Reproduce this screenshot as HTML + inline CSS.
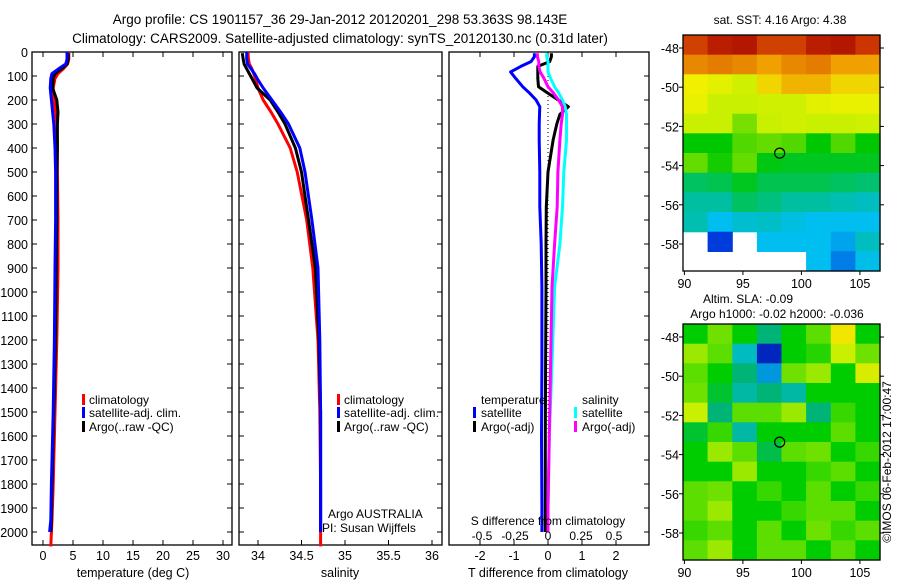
<!DOCTYPE html>
<html><head><meta charset="utf-8"><style>
body{margin:0;background:#fff}
svg{display:block;font-family:"Liberation Sans",sans-serif}
</style></head><body>
<svg id="c" width="900" height="580" viewBox="0 0 900 580" xmlns="http://www.w3.org/2000/svg">
<rect width="900" height="580" fill="#fff"/>
<text x="340" y="24" font-size="13.5" text-anchor="middle">Argo profile: CS 1901157_36 29-Jan-2012 20120201_298 53.363S 98.143E</text>
<text x="340" y="43" font-size="13.5" text-anchor="middle">Climatology: CARS2009. Satellite-adjusted climatology: synTS_20120130.nc (0.31d later)</text>
<g id="g"></g>
</svg>
<script>
// ---------- data ----------
const depthTicks=[0,100,200,300,400,500,600,700,800,900,1000,1100,1200,1300,1400,1500,1600,1700,1800,1900,2000];
const tempTicks=[0,5,10,15,20,25,30];
const salTicks=[34,34.5,35,35.5,36];
const tdiffTicks=[-2,-1,0,1,2];
const sdiffTicks=[-0.5,-0.25,0,0.25,0.5];
const sdiffTickLabels=["-0.5","-0.25","0","0.25","0.5"];

const depthClim=[0,30,50,70,90,110,150,200,250,300,400,500,700,900,1200,1500,1800,1950,2000,2060];
const tempClim=[4.3,4.3,4.1,3.4,2.5,2.0,1.7,1.8,2.1,2.3,2.4,2.4,2.5,2.5,2.3,2.0,1.7,1.5,1.4,1.3];
const salClim=[33.885,33.89,33.9,33.93,33.95,33.97,34.0,34.06,34.15,34.23,34.37,34.45,34.56,34.63,34.69,34.71,34.72,34.72,34.72,34.72];

const depthSat=[0,30,50,70,90,110,150,200,250,300,400,500,700,900,1200,1500,1800,1950,2000];
const tempSat=[4.0,4.0,3.8,2.6,1.5,1.3,1.2,1.4,1.6,1.8,2.0,2.1,2.1,2.0,1.9,1.7,1.4,1.3,1.1];
const salSat=[33.87,33.87,33.88,33.92,33.96,33.99,34.06,34.16,34.26,34.35,34.48,34.54,34.62,34.69,34.71,34.72,34.72,34.72,34.72];

const depthArgo=[5,30,50,70,90,110,150,200,250,300,400,500,700,900,1200,1500,1800,1950,2000];
const tempArgo=[4.2,4.2,4.0,3.1,2.0,1.7,1.6,2.3,2.5,2.4,2.4,2.3,2.3,2.2,2.1,1.8,1.5,1.4,1.3];
const salArgo=[33.82,33.83,33.84,33.87,33.9,33.93,33.99,34.14,34.23,34.31,34.43,34.5,34.58,34.66,34.7,34.72,34.72,34.72,34.72];

const depthDiff=[5,20,40,60,83,110,145,170,200,228,260,300,367,500,645,800,980,1300,1600,1900,2000];
const tdiffSat=[-0.4,-0.4,-0.5,-0.8,-1.1,-0.95,-0.74,-0.55,-0.35,-0.24,-0.25,-0.26,-0.26,-0.24,-0.24,-0.2,-0.18,-0.18,-0.19,-0.18,-0.18];
const tdiffArgo=[0.1,0.1,0.05,-0.3,-0.3,-0.3,-0.28,-0.02,0.3,0.6,0.35,0.26,0.15,0.0,-0.05,-0.06,-0.06,-0.07,-0.08,-0.08,-0.08];
const sdiffArgo=[-0.08,-0.08,-0.07,-0.07,-0.06,-0.03,0.0,0.04,0.08,0.11,0.11,0.10,0.09,0.075,0.07,0.05,0.03,0.02,0.01,0.0,0.0];
const sdiffSat=[-0.01,-0.01,0.0,0.0,0.0,0.02,0.05,0.08,0.11,0.13,0.14,0.14,0.14,0.12,0.11,0.09,0.05,0.03,0.01,0.0,0.0];

// SST map grid (rows: lat -47.3 -> -59.3, 1deg each; cols: 8 lon bins) deg C, null = no data
const sstGrid=[
[8.6,9.0,9.1,8.6,8.6,9.0,9.1,8.7],
[8.0,8.1,8.0,7.8,8.0,8.1,7.8,7.8],
[6.6,6.4,6.1,7.0,7.5,7.5,7.0,7.0],
[6.5,6.0,6.0,6.1,6.1,6.4,6.5,6.5],
[6.0,6.0,5.6,6.0,6.1,6.0,6.0,6.1],
[5.0,5.0,5.4,5.5,5.4,5.0,5.4,5.0],
[5.5,5.1,5.5,4.9,4.8,4.8,4.8,4.8],
[4.4,4.5,4.8,4.5,4.5,4.5,4.4,4.3],
[4.0,4.0,4.4,4.2,4.0,4.0,3.8,3.6],
[3.8,3.0,3.4,3.5,3.2,3.0,3.0,3.0],
[null,2.0,null,3.0,3.0,3.0,2.8,3.6],
[null,null,null,null,null,3.0,2.5,3.1]
];
// SLA map grid (m)
const slaGrid=[
[0.0,0.06,0.0,-0.05,0.0,0.05,0.15,0.0],
[0.08,0.05,-0.1,-0.25,0.0,0.02,0.1,0.06],
[0.05,0.0,-0.05,-0.15,0.06,0.08,0.0,0.12],
[0.06,-0.02,-0.08,-0.05,-0.08,0.0,0.0,0.0],
[0.1,-0.05,0.05,0.05,0.08,-0.05,0.03,0.0],
[-0.02,0.03,-0.08,0.0,0.0,0.0,0.05,0.0],
[0.0,0.08,0.05,-0.03,0.05,0.06,0.0,0.03],
[0.0,0.0,0.08,0.0,0.0,0.03,0.05,0.0],
[0.05,0.06,0.0,0.03,0.0,0.05,0.0,0.03],
[0.05,0.08,0.0,0.0,0.03,0.05,0.05,0.0],
[0.03,0.05,0.0,0.05,0.0,0.06,0.03,0.05],
[0.05,0.08,0.0,0.05,0.05,0.0,0.05,0.0]
];
const lonTicks=[90,95,100,105];
const latTicks=[-48,-50,-52,-54,-56,-58];
const argoLon=98.143, argoLat=-53.363;

// ---------- scales ----------
const NS="http://www.w3.org/2000/svg";
const G=document.getElementById('g');
function el(t,a,p){const e=document.createElementNS(NS,t);for(const k in a)e.setAttribute(k,a[k]);(p||G).appendChild(e);return e;}
const yD=d=>52+d*0.24;
const xT=t=>43+t*6;
const xS=s=>258+(s-34)*87;
const xTd=t=>548+t*34;
const xSd=s=>548+s*132;
const TOP=52,BOT=545;

function frame(x0,x1,name){
  const r=el('rect',{x:x0,y:TOP,width:x1-x0,height:BOT-TOP,fill:'none',stroke:'#000','stroke-width':1.3});
  
  
  depthTicks.forEach(d=>{
    const y=yD(d);
    el('line',{x1:x0,x2:x0+5,y1:y,y2:y,stroke:'#000'});
    el('line',{x1:x1-5,x2:x1,y1:y,y2:y,stroke:'#000'});
  });
}
function xticks(vals,fx,labels,ylab,name,top){
  vals.forEach((v,i)=>{
    const x=fx(v);
    el('line',{x1:x,x2:x,y1:BOT,y2:BOT-5,stroke:'#000'});
    if(top) el('line',{x1:x,x2:x,y1:TOP,y2:TOP+5,stroke:'#000'});
    const t=el('text',{x:x,y:ylab,'font-size':12.5,'text-anchor':'middle'});
    t.textContent=labels?labels[i]:String(v);
    
    
  });
}
function line(ds,vs,fx,col,name,w){
  const pts=ds.map((d,i)=>fx(vs[i]).toFixed(1)+','+yD(d).toFixed(1)).join(' ');
  const p=el('polyline',{points:pts,fill:'none',stroke:col,'stroke-width':w||3,'stroke-linejoin':'round'});
  
  
}
function txt(x,y,s,name,extra){
  const a={x:x,y:y,'font-size':12.5};Object.assign(a,extra||{});
  const t=el('text',a);t.textContent=s;
  
  
  return t;
}
function legBar(x,y,col,name){
  const r=el('rect',{x:x,y:y-10,width:3,height:11,fill:col});
  
  
}

// ---------- panel 1 temperature ----------
frame(32,232,'temperature-panel');
depthTicks.forEach(d=>{txt(28,yD(d)+5,String(d),'depth-tick-label',{'text-anchor':'end'});});
xticks(tempTicks,xT,null,560,'temperature-tick-label',true);
txt(133,577,'temperature (deg C)','temperature-axis-title',{'text-anchor':'middle'});
line(depthClim,tempClim,xT,'#f00','temp-climatology-line');
line(depthArgo,tempArgo,xT,'#000','temp-argo-line');
line(depthSat,tempSat,xT,'#00f','temp-satellite-line');
legBar(82,404,'#f00','legend-climatology-swatch');txt(89,404,'climatology','legend-climatology',{'font-size':12});
legBar(82,417,'#00f','legend-satellite-swatch');txt(89,417,'satellite-adj. clim.','legend-satellite',{'font-size':12});
legBar(82,431,'#000','legend-argo-swatch');txt(89,431,'Argo(..raw -QC)','legend-argo',{'font-size':12});

// ---------- panel 2 salinity ----------
frame(239,442,'salinity-panel');
xticks(salTicks,xS,null,560,'salinity-tick-label',false);
txt(340,577,'salinity','salinity-axis-title',{'text-anchor':'middle'});
line(depthClim,salClim,xS,'#f00','sal-climatology-line');
line(depthArgo,salArgo,xS,'#000','sal-argo-line');
line(depthSat,salSat,xS,'#00f','sal-satellite-line');
legBar(337,404,'#f00','legend2-climatology-swatch');txt(344,404,'climatology','legend2-climatology',{'font-size':12});
legBar(337,417,'#00f','legend2-satellite-swatch');txt(344,417,'satellite-adj. clim.','legend2-satellite',{'font-size':12,textLength:95});
legBar(337,431,'#000','legend2-argo-swatch');txt(344,431,'Argo(..raw -QC)','legend2-argo',{'font-size':12});
txt(328,518,'Argo AUSTRALIA','argo-country-label',{'font-size':12});
txt(322,532,'PI: Susan Wijffels','pi-label',{'font-size':12});

// ---------- panel 3 differences ----------
const r3=el('rect',{x:449,y:TOP,width:200,height:BOT-TOP,fill:'none',stroke:'#000','stroke-width':1.3});


depthTicks.forEach(d=>{const y=yD(d);el('line',{x1:644,x2:649,y1:y,y2:y,stroke:'#000'});});
tdiffTicks.forEach(v=>{el('line',{x1:xTd(v),x2:xTd(v),y1:TOP,y2:TOP+5,stroke:'#000'});});
xticks(tdiffTicks,xTd,null,560,'tdiff-tick-label',false);
txt(548,577,'T difference from climatology','tdiff-axis-title',{'text-anchor':'middle'});
el('line',{x1:548,x2:548,y1:yD(100),y2:yD(2000),stroke:'#000','stroke-dasharray':'1,3'});
line(depthDiff,tdiffSat,xTd,'#00f','tdiff-satellite-line');
line(depthDiff,tdiffArgo,xTd,'#000','tdiff-argo-line');
line(depthDiff,sdiffSat,xSd,'#0ff','sdiff-satellite-line');
line(depthDiff,sdiffArgo,xSd,'#f0f','sdiff-argo-line');
txt(481,404,'temperature','legend3-temperature-header',{'font-size':12});
legBar(473,417,'#00f','legend3-tsat-swatch');txt(481,417,'satellite','legend3-tsat',{'font-size':12});
legBar(473,431,'#000','legend3-targo-swatch');txt(481,431,'Argo(-adj)','legend3-targo',{'font-size':12});
txt(582,404,'salinity','legend3-salinity-header',{'font-size':12});
legBar(574,417,'#0ff','legend3-ssat-swatch');txt(582,417,'satellite','legend3-ssat',{'font-size':12});
legBar(574,431,'#f0f','legend3-sargo-swatch');txt(582,431,'Argo(-adj)','legend3-sargo',{'font-size':12});
txt(548,525,'S difference from climatology','sdiff-axis-title',{'text-anchor':'middle','font-size':12});
sdiffTicks.forEach((v,i)=>{txt(xSd(v),540,sdiffTickLabels[i],'sdiff-tick-label',{'text-anchor':'middle','font-size':12});});

// ---------- maps ----------
function lerp(stops,v){
  if(v<=stops[0][0])return 'rgb('+stops[0][1].join(',')+')';
  for(let i=1;i<stops.length;i++){if(v<=stops[i][0]){const a=stops[i-1],b=stops[i],t=(v-a[0])/(b[0]-a[0]);
    return 'rgb('+a[1].map((c,k)=>Math.round(c+(b[1][k]-c)*t)).join(',')+')';}}
  const l=stops[stops.length-1][1];return 'rgb('+l.join(',')+')';
}
const sstStops=[[1,[0,0,140]],[2,[0,60,220]],[3,[0,190,240]],[4,[0,190,160]],[5,[0,200,0]],[6,[200,240,0]],[6.6,[240,240,0]],[7.8,[240,160,0]],[8.8,[200,40,0]],[9.5,[150,0,0]]];
const slaStops=[[-0.3,[0,0,140]],[-0.22,[0,60,220]],[-0.12,[0,190,220]],[-0.05,[0,180,120]],[0,[0,205,0]],[0.06,[110,225,0]],[0.1,[200,240,0]],[0.15,[240,230,0]],[0.2,[240,170,0]]];

function map(top,grid,stops,name){
  const L=683,R=880,B=top+236;
  const lonX=lo=>684.4+(lo-90)*11.7;
  const latY=la=>(top+13)+(-48-la)*19.6;
  const latTop=-48+13/19.6, rows=grid.length, cols=grid[0].length;
  const g=el('g',{});
  
  
  const lon0=(L-684.4)/11.7+90, lon1=(R-684.4)/11.7+90, dlon=(lon1-lon0)/cols;
  const dlat=(latTop-(-48-(B-top-13)/19.6))/rows;
  grid.forEach((row,ri)=>row.forEach((v,ci)=>{
    if(v===null)return;
    const x=lonX(lon0+ci*dlon), y=latY(latTop-ri*dlat);
    const c=el('rect',{x:x.toFixed(1),y:y.toFixed(1),width:(dlon*11.7+0.6).toFixed(1),height:(dlat*19.6+0.6).toFixed(1),fill:lerp(stops,v)},g);
    
    
  }));
  el('rect',{x:L,y:top,width:R-L,height:B-top,fill:'none',stroke:'#000','stroke-width':1.3});
  lonTicks.forEach(lo=>{const x=lonX(lo);el('line',{x1:x,x2:x,y1:B,y2:B+4,stroke:'#000'});
    txt(x,B+17,String(lo),'lon-tick-label',{'text-anchor':'middle'});});
  latTicks.forEach(la=>{const y=latY(la);el('line',{x1:L-4,x2:L,y1:y,y2:y,stroke:'#000'});el('line',{x1:R,x2:R+4,y1:y,y2:y,stroke:'#000'});
    txt(L-4,y+5,String(la),'lat-tick-label',{'text-anchor':'end'});});
  const c=el('circle',{cx:lonX(argoLon),cy:latY(argoLat),r:5,fill:'none',stroke:'#000','stroke-width':1.2});
  
  
}
map(35,sstGrid,sstStops,'sst-map');
map(324,slaGrid,slaStops,'sla-map');
txt(780,24,'sat. SST: 4.16 Argo: 4.38','sst-map-title',{'text-anchor':'middle','font-size':12});
txt(748,303,'Altim. SLA: -0.09','sla-map-title',{'text-anchor':'middle','font-size':12});
txt(777,318,'Argo h1000: -0.02 h2000: -0.036','sla-map-subtitle',{'text-anchor':'middle','font-size':12});
txt(0,0,'©IMOS 06-Feb-2012 17:00:47','timestamp-label',{'font-size':12,'text-anchor':'middle',transform:'translate(891,462) rotate(-90)'});
</script>
</body></html>
